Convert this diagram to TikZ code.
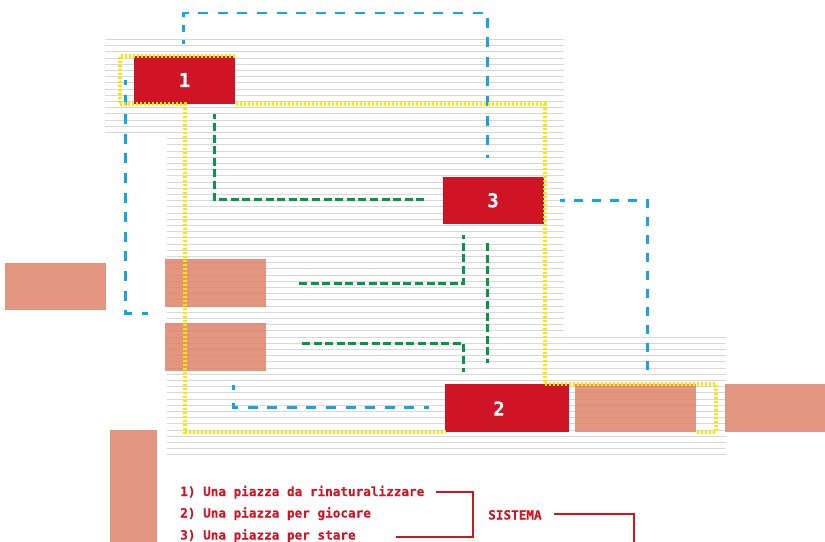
\documentclass[tikz,border=0pt]{standalone}
\usepackage{fontspec}
\setmainfont{DejaVu Sans Mono}[BoldFont={DejaVu Sans Mono Bold},BoldFeatures={FakeBold=0.25}]
\definecolor{redbox}{HTML}{CF1426}
\definecolor{salmon}{RGB}{224,133,109}
\definecolor{blueline}{HTML}{16A5E3}
\definecolor{greenline}{HTML}{009A46}
\definecolor{yellowline}{HTML}{FFE600}
\definecolor{greyline}{HTML}{D8D8D8}
\tikzset{
  x=0.75pt,y=-0.75pt,
  hatch/.style={draw=greyline,line width=0.85pt},
  redblock/.style={fill=redbox,inner sep=0pt,text=white,font=\fontsize{14.4}{14.4}\selectfont\bfseries},
  salmonblock/.style={fill=salmon,fill opacity=.87,inner sep=0pt},
  bluedash/.style={draw=blueline,line width=1.9pt,dash pattern=on 7.5pt off 7.2pt},
  greendash/.style={draw=greenline,line width=1.9pt,dash pattern=on 6pt off 2.7pt},
  yellowdot/.style={draw=yellowline,line width=3pt,dash pattern=on 1.5pt off 1.5pt},
  redline/.style={draw=redbox,line width=1.5pt},
  legend/.style={text=redbox,anchor=base west,inner sep=0pt,font=\fontsize{9.5}{9.5}\selectfont\bfseries},
}
\newcommand{\blockat}[7]{\node[#1,minimum width=#6*0.75pt,minimum height=#7*0.75pt] (#2) at (#3+#6/2,#4+#7/2) {#5};}
\begin{document}
\begin{tikzpicture}
\useasboundingbox (0,0) rectangle (825,542);
% ruled background
\foreach \n in {0,...,15} \draw[hatch] (105,39.5+6.2*\n) -- (564,39.5+6.2*\n);
\foreach \n in {16,...,47} \draw[hatch] (167,39.5+6.2*\n) -- (564,39.5+6.2*\n);
\foreach \n in {48,...,67} \draw[hatch] (167,39.5+6.2*\n) -- (726,39.5+6.2*\n);
% salmon blocks
\blockat{salmonblock}{sa}{5}{262.5}{}{101}{47.5}
\blockat{salmonblock}{sb}{165}{259}{}{101}{48}
\blockat{salmonblock}{sc}{165}{323}{}{101}{48}
\blockat{salmonblock}{sd}{574.5}{384}{}{121.5}{48}
\blockat{salmonblock}{se}{724.5}{384}{}{100.5}{48}
\blockat{salmonblock}{sf}{109.5}{430}{}{47.5}{112}
% red blocks
\blockat{redblock}{one}{134}{56}{1}{101}{48}
\blockat{redblock}{three}{442.5}{176.5}{3}{101}{47.5}
\blockat{redblock}{two}{445}{384}{}{123.5}{48}
\node[redblock,fill=none] (twolabel) at (499,408.5) {2};
% free ends
\coordinate (b0s) at (183.5,44);
\coordinate (b0e) at (183.5,17);
\coordinate (b1a) at (183.5,13);
\coordinate (b1b) at (487.5,13);
\coordinate (b1e) at (487.5,158);
\coordinate (b2s) at (125.5,80);
\coordinate (b2a) at (125.5,313.5);
\coordinate (b2e) at (148,313.5);
\coordinate (b3s) at (560,200.5);
\coordinate (b3a) at (647.5,200.5);
\coordinate (b3e) at (647.5,372);
\coordinate (b4s) at (233.5,385);
\coordinate (b4t) at (233.5,390);
\coordinate (b4m) at (233.5,403);
\coordinate (b4a) at (233.5,407.5);
\coordinate (b4e) at (429,407.5);
\coordinate (g1s) at (214.5,114);
\coordinate (g1a) at (214.5,199.5);
\coordinate (g1e) at (426,199.5);
\coordinate (g2s) at (299,283.5);
\coordinate (g2a) at (463.5,283.5);
\coordinate (g2e) at (463.5,235);
\coordinate (g3s) at (487.5,243);
\coordinate (g3e) at (487.5,363);
\coordinate (g4s) at (302,343.5);
\coordinate (g4a) at (463.5,343.5);
\coordinate (g4e) at (463.5,372);
% dashed connectors
\draw[bluedash,dash pattern=on 3pt off 6pt on 5.25pt off 6pt] (b0s) -- (b0e);
\draw[bluedash,dash phase=0.75pt] (b0e) -- (b1a) -- (b1b) -- (b1e);
\draw[bluedash,dash phase=3.75pt] (b2s) -- (b2a) -- (b2e);
\draw[bluedash,dash pattern=on 6.75pt off 6.75pt,dash phase=3pt] (b3s) -- (b3a) -- (b3e);
\draw[bluedash,dash pattern={}] (b4s) -- (b4t);
\draw[bluedash,dash phase=0.75pt] (b4m) -- (b4a) -- (b4e);
\draw[greendash,dash phase=2pt] (g1s) -- (g1a) -- (g1e);
\draw[greendash] (g2s) -- (g2a) -- (g2e);
\draw[greendash] (g3s) -- (g3e);
\draw[greendash] (g4s) -- (g4a) -- (g4e);
% yellow dotted outline
\coordinate (y1) at (234.5,56);
\coordinate (y2) at (119.5,56);
\coordinate (y3) at (119.5,104.5);
\coordinate (y4) at (185,104.5);
\coordinate (y5) at (185,432);
\coordinate (y6) at (445,432);
\coordinate (y7) at (236,104.5);
\coordinate (y8) at (544.5,104.5);
\coordinate (y9) at (544.5,384);
\coordinate (y10) at (715.5,384);
\coordinate (y11) at (715.5,432);
\coordinate (y12) at (696,432);
\draw[yellowdot] (y1) -- (y2) -- (y3) -- (y4) -- (y5) -- (y6);
\draw[yellowdot] (y7) -- (y8) -- (y9) -- (y10) -- (y11) -- (y12);
% legend
\node[legend] (l1) at (180,496) {1) Una piazza da rinaturalizzare};
\node[legend] (l2) at (180,517.5) {2) Una piazza per giocare};
\node[legend] (l3) at (180,539.5) {3) Una piazza per stare};
\node[legend] (sys) at (488,519.5) {SISTEMA};
\coordinate (r1s) at (436,491.5);
\coordinate (r1a) at (472.5,491.5);
\coordinate (r1b) at (472.5,537);
\coordinate (r1e) at (396,537);
\coordinate (r2s) at (554,514);
\coordinate (r2a) at (634,514);
\coordinate (r2e) at (634,542);
\draw[redline] (r1s) -- (r1a) -- (r1b) -- (r1e);
\draw[redline] (r2s) -- (r2a) -- (r2e);
\end{tikzpicture}
\end{document}
